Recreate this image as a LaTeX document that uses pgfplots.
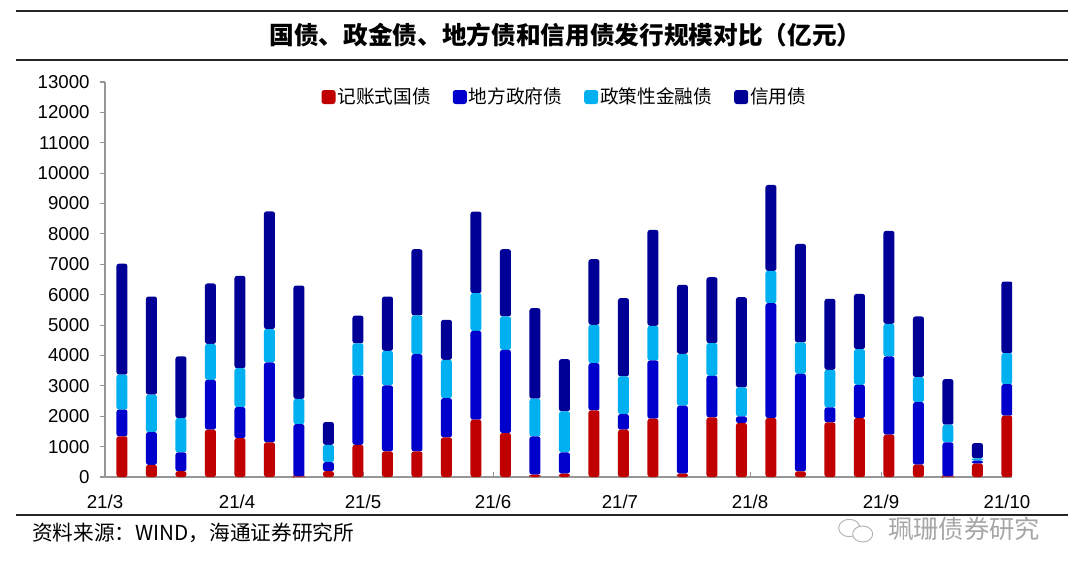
\documentclass[border=0pt]{standalone}
\usepackage{pgfplots}
\pgfplotsset{compat=1.18}
\usepackage{fontspec}
\setmainfont{Liberation Sans}
\newfontfamily\cjk{Noto Sans CJK SC}
\definecolor{cRed}{RGB}{192,0,0}
\definecolor{cBlue}{RGB}{0,0,204}
\definecolor{cLight}{RGB}{0,176,240}
\definecolor{cNavy}{RGB}{0,0,150}
\definecolor{axgray}{RGB}{150,150,150}
\pgfplotstableread{
x r b l n
0 1340 880 1150 3650
1 400 1080 1230 3230
2 190 620 1130 2030
3 1560 1640 1180 1990
4 1280 1020 1280 3040
5 1140 2630 1100 3870
6 20 1720 830 3730
7 190 300 570 750
8 1060 2280 1060 910
9 844 2170 1140 1786
10 844 3200 1272 2181
11 1304 1293 1261 1315
12 1885 2926 1239 2685
13 1447 2740 1096 2214
14 77 1260 1239 2981
15 110 701 1349 1720
16 2192 1556 1261 2159
17 1556 515 1239 2576
18 1918 1918 1140 3156
19 110 2235 1710 2269
20 1962 1370 1074 2170
21 1776 219 953 2970
22 1940 3781 1063 2828
23 186 3212 1030 3244
24 1797 494 1238 2335
25 1940 1096 1173 1819
26 1392 2575 1075 3058
27 405 2061 822 1995
28 20 1120 581 1501
29 438 99 77 504
30 2017 1041 1019 2357
}\datatable
\begin{document}
\begin{tikzpicture}
\path[use as bounding box] (0,0) rectangle (810pt,433.5pt);
% rules
\draw[line width=1.5pt,black!85] (12pt,425.25pt) -- (801pt,425.25pt);
\draw[line width=1.5pt,black!85] (12pt,388.5pt) -- (801pt,388.5pt);
\draw[line width=1.3pt,black!85] (12pt,47.25pt) -- (801pt,47.25pt);
\node[font=\cjk\bfseries\fontsize{18.5pt}{20pt}\selectfont] at (424pt,407.25pt) {国债、政金债、地方债和信用债发行规模对比（亿元）};
\node[font=\cjk\fontsize{15.5pt}{17pt}\selectfont, anchor=west, inner sep=0pt] at (24pt,33.75pt) {资料来源：WIND，海通证券研究所};
% watermark
\begin{scope}[black!30, line width=0.7pt]
\draw (637pt,37.5pt) ellipse (8pt and 6.5pt);
\draw[fill=white] (647pt,33pt) ellipse (7.5pt and 6pt);
\end{scope}
\node[font=\cjk\fontsize{19pt}{21pt}\selectfont, text=black!35, anchor=west, inner sep=0pt] at (666pt,36.75pt) {珮珊债券研究};
\begin{axis}[
  at={(78.75pt,75.75pt)}, anchor=south west,
  scale only axis, width=680.25pt, height=296.25pt,
  ybar stacked, bar width=8.25pt,
  xmin=-0.576, xmax=30.17, ymin=0, ymax=13000,
  axis x line=bottom, axis y line=left,
  axis line style={axgray, line width=0.8pt, -},
  xtick={-0.576,3.90,8.17,12.58,16.88,21.29,25.73,30.0},
  xticklabels={21/3,21/4,21/5,21/6,21/7,21/8,21/9,21/10},
  ytick={0,1000,...,13000},
  scaled y ticks=false,
  x tick style={axgray, line width=0.8pt}, y tick style={axgray, line width=0.8pt},
  xtick align=inside, ytick align=outside,
  major tick length=4pt,
  /pgf/number format/assume math mode=true,
  /pgf/number format/set thousands separator={},
  tick label style={font=\fontsize{14pt}{16pt}\selectfont},
  xticklabel style={yshift=-10pt},
  yticklabel style={xshift=-4pt},
  every axis plot/.append style={rounded corners=1.8pt},
  legend style={at={(0.507,0.962)}, anchor=center, draw=none, fill=none,
    legend columns=-1, font=\cjk\fontsize{14pt}{16pt}\selectfont,
    /tikz/every even column/.append style={column sep=15pt},
    nodes={inner xsep=1.5pt}},
  legend image code/.code={\fill[#1, rounded corners=2pt] (0pt,-5.25pt) rectangle (10.5pt,5.25pt);},
]
\addplot[fill=cRed, draw=none] table[x=x,y=r] {\datatable};
\addplot[fill=cBlue, draw=none] table[x=x,y=b] {\datatable};
\addplot[fill=cLight, draw=none] table[x=x,y=l] {\datatable};
\addplot[fill=cNavy, draw=none] table[x=x,y=n] {\datatable};
\legend{记账式国债,地方政府债,政策性金融债,信用债}
\end{axis}
\end{tikzpicture}
\end{document}
